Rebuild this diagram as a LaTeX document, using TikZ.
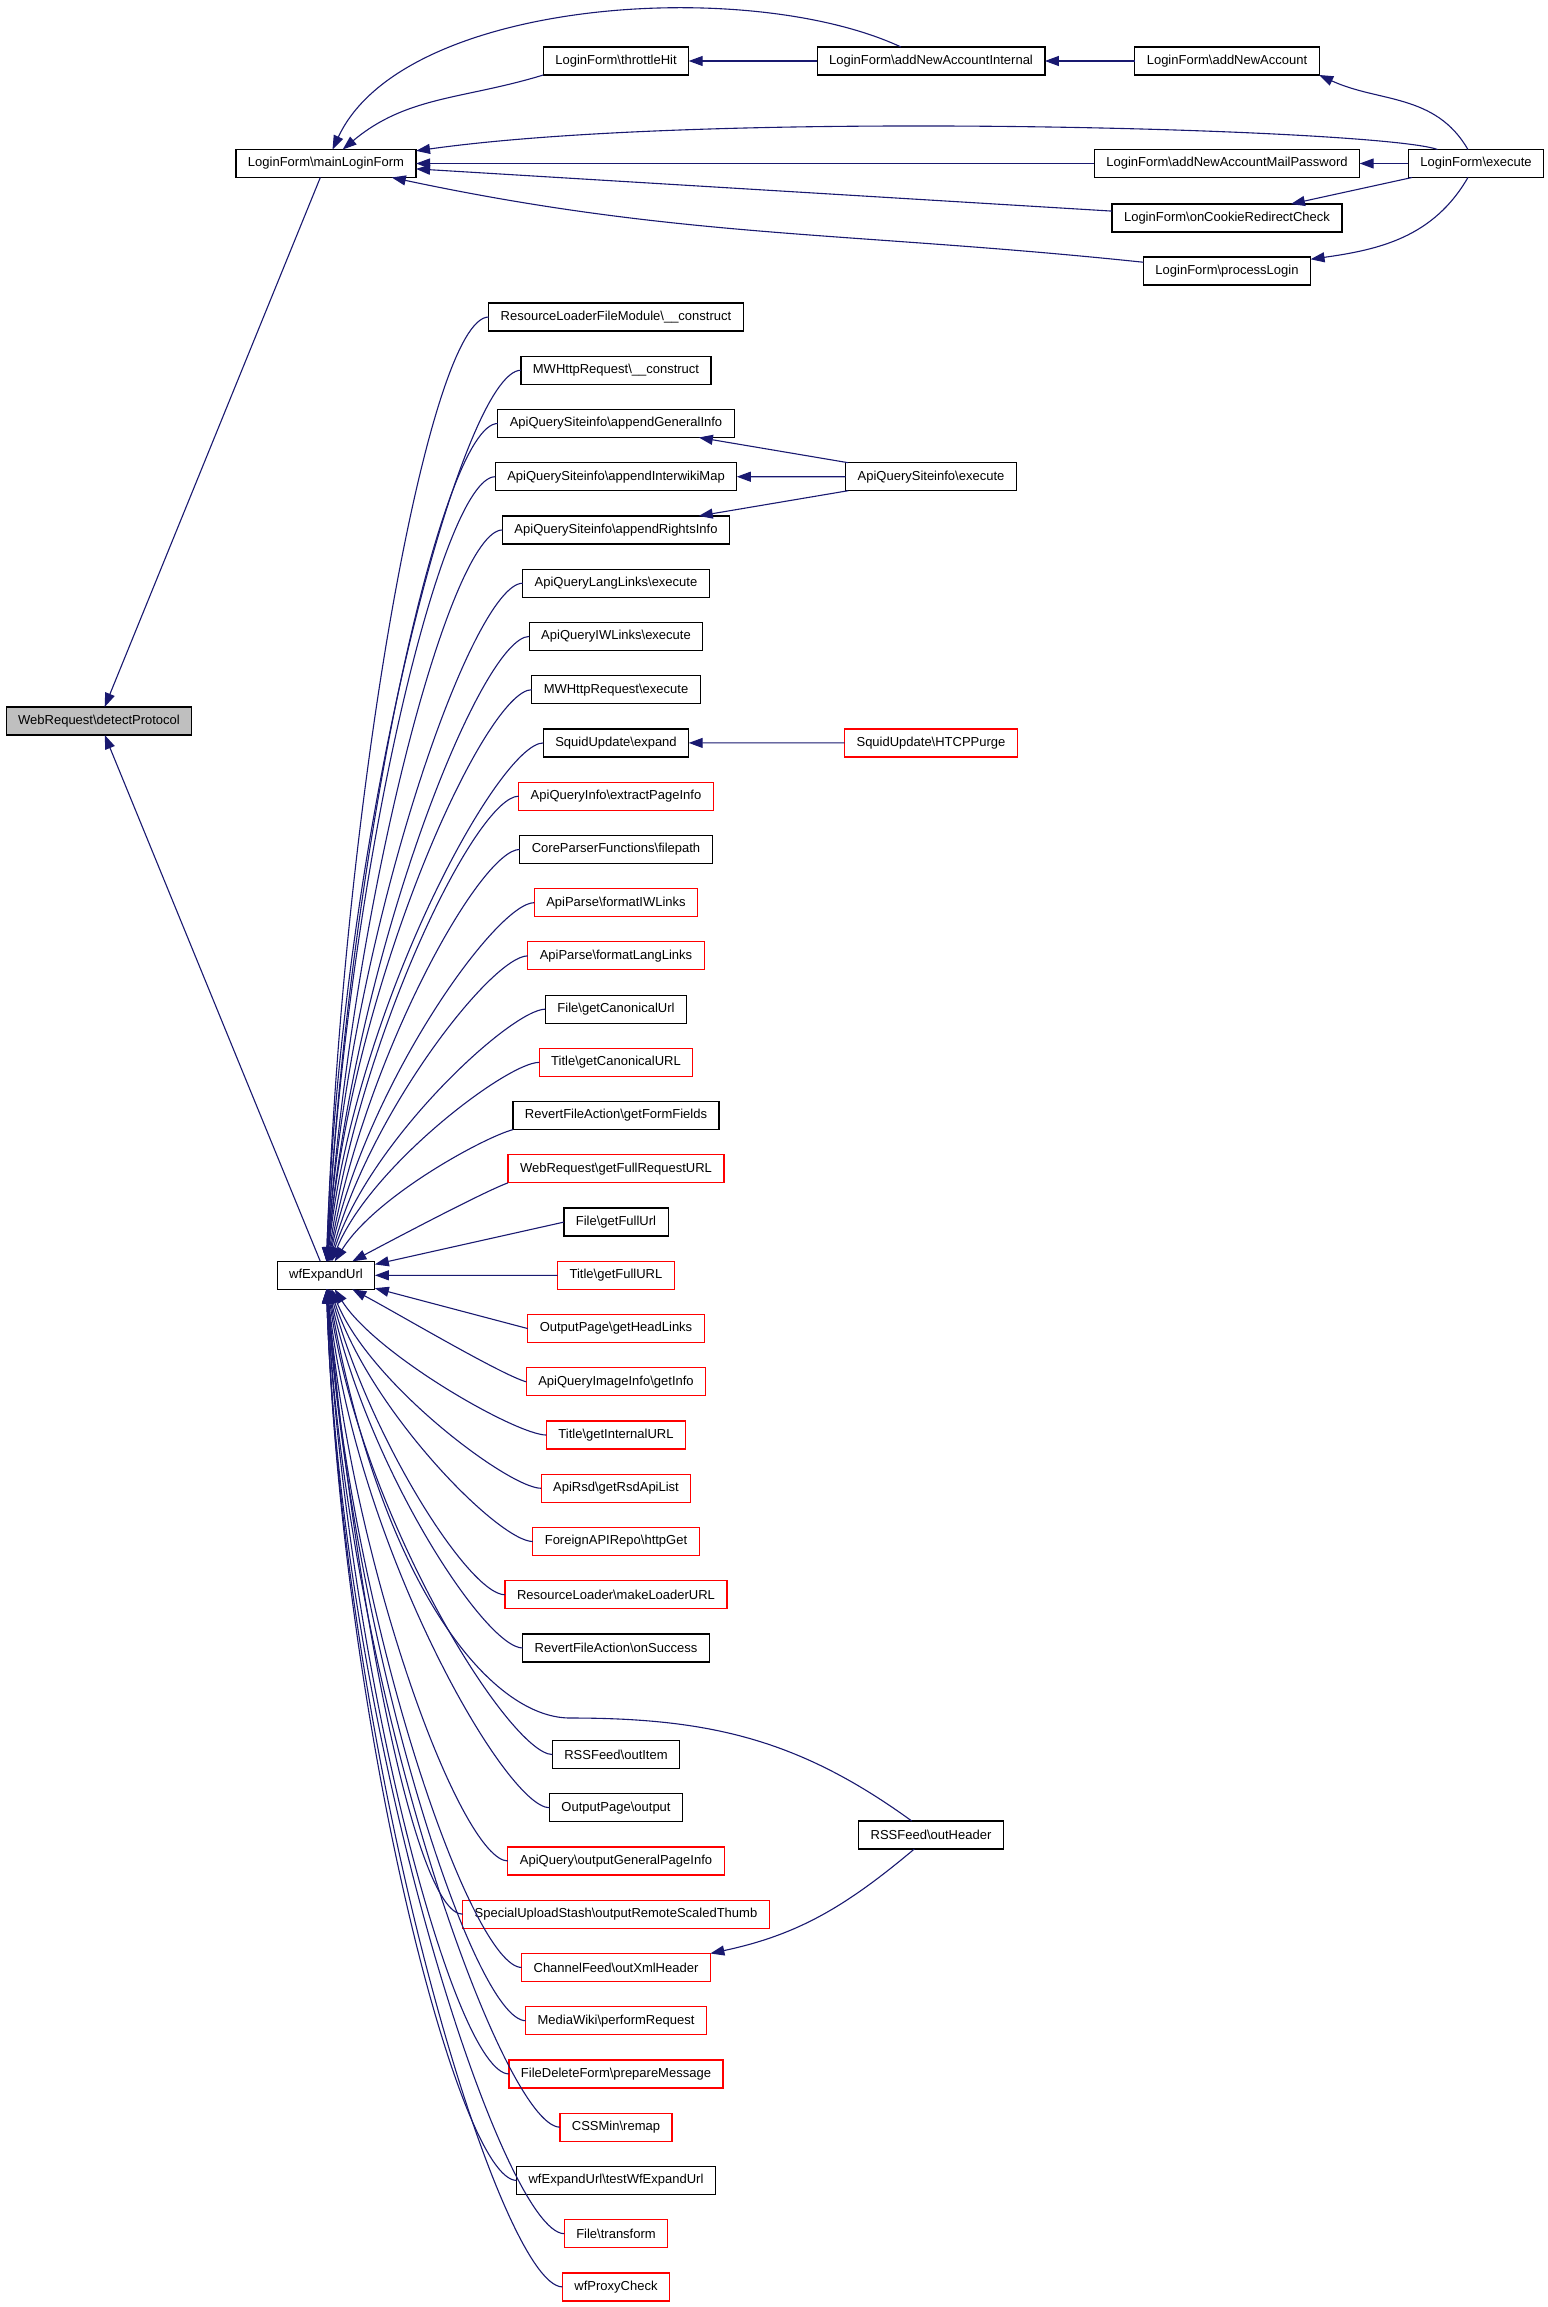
\documentclass[tikz,border=0pt]{standalone}
\usepackage{fontspec}
\setmainfont{Liberation Sans}
\usepackage{tikz}
\usetikzlibrary{arrows.meta,positioning}
\definecolor{dxblue}{HTML}{191970}
\definecolor{dxred}{HTML}{FF0000}
\definecolor{dxgray}{HTML}{BFBFBF}
\newcommand{\bsl}{\textbackslash}

\begin{document}
\begin{tikzpicture}[
  x=1pt,y=1pt,
  font=\fontsize{13}{15}\selectfont,
  fn/.style={draw=black,line width=1.2pt,fill=white,inner xsep=12pt,
             inner ysep=0pt,minimum height=28pt,outer sep=0pt},
  fnred/.style={fn,draw=dxred},
  fnhit/.style={fn,fill=dxgray},
  call/.style={draw=dxblue,line width=1.1pt,-{Triangle[length=14pt,width=10pt]}},
]
\path[use as bounding box,fill=white] (0,0) rectangle (1547,-2307);

\node[fnhit] (detect) at (99,-721) {WebRequest\bsl detectProtocol};
\node[fn] (mainform) at (326,-163.5) {LoginForm\bsl mainLoginForm};
\node[fn] (wfexpand) at (326,-1275.3) {wfExpandUrl};

\node[fn] (throttle) at (616,-61) {LoginForm\bsl throttleHit};
\node[fn] (addint) at (931,-61) {LoginForm\bsl addNewAccountInternal};
\node[fn] (addacc) at (1227,-61) {LoginForm\bsl addNewAccount};
\node[fn] (mailpw) at (1227,-163.5) {LoginForm\bsl addNewAccountMailPassword};
\node[fn] (cookie) at (1227,-218) {LoginForm\bsl onCookieRedirectCheck};
\node[fn] (proclogin) at (1227,-271) {LoginForm\bsl processLogin};
\node[fn] (lfexec) at (1476,-163.5) {LoginForm\bsl execute};

\node[fn] (rlfmcons) at (616,-317) {ResourceLoaderFileModule\bsl\_\_construct};
\node[fn,below=25.24pt of rlfmcons] (httpcons) {MWHttpRequest\bsl\_\_construct};
\node[fn,below=25.24pt of httpcons] (geninfo) {ApiQuerySiteinfo\bsl appendGeneralInfo};
\node[fn,below=25.24pt of geninfo] (iwmap) {ApiQuerySiteinfo\bsl appendInterwikiMap};
\node[fn,below=25.24pt of iwmap] (rights) {ApiQuerySiteinfo\bsl appendRightsInfo};
\node[fn,below=25.24pt of rights] (langlinks) {ApiQueryLangLinks\bsl execute};
\node[fn,below=25.24pt of langlinks] (iwlinks) {ApiQueryIWLinks\bsl execute};
\node[fn,below=25.24pt of iwlinks] (httpexec) {MWHttpRequest\bsl execute};
\node[fn,below=25.24pt of httpexec] (squidexp) {SquidUpdate\bsl expand};
\node[fnred,below=25.24pt of squidexp] (pageinfo) {ApiQueryInfo\bsl extractPageInfo};
\node[fn,below=25.24pt of pageinfo] (filepath) {CoreParserFunctions\bsl filepath};
\node[fnred,below=25.24pt of filepath] (fmtiw) {ApiParse\bsl formatIWLinks};
\node[fnred,below=25.24pt of fmtiw] (fmtlang) {ApiParse\bsl formatLangLinks};
\node[fn,below=25.24pt of fmtlang] (filecanon) {File\bsl getCanonicalUrl};
\node[fnred,below=25.24pt of filecanon] (titlecanon) {Title\bsl getCanonicalURL};
\node[fn,below=25.24pt of titlecanon] (formfields) {RevertFileAction\bsl getFormFields};
\node[fnred,below=25.24pt of formfields] (fullreq) {WebRequest\bsl getFullRequestURL};
\node[fn,below=25.24pt of fullreq] (filefull) {File\bsl getFullUrl};
\node[fnred,below=25.24pt of filefull] (titlefull) {Title\bsl getFullURL};
\node[fnred,below=25.24pt of titlefull] (headlinks) {OutputPage\bsl getHeadLinks};
\node[fnred,below=25.24pt of headlinks] (imginfo) {ApiQueryImageInfo\bsl getInfo};
\node[fnred,below=25.24pt of imginfo] (titleint) {Title\bsl getInternalURL};
\node[fnred,below=25.24pt of titleint] (rsdlist) {ApiRsd\bsl getRsdApiList};
\node[fnred,below=25.24pt of rsdlist] (httpget) {ForeignAPIRepo\bsl httpGet};
\node[fnred,below=25.24pt of httpget] (loaderurl) {ResourceLoader\bsl makeLoaderURL};
\node[fn,below=25.24pt of loaderurl] (onsuccess) {RevertFileAction\bsl onSuccess};
\node[fn,below=78.48pt of onsuccess] (outitem) {RSSFeed\bsl outItem};
\node[fn,below=25.24pt of outitem] (outpage) {OutputPage\bsl output};
\node[fnred,below=25.24pt of outpage] (outgen) {ApiQuery\bsl outputGeneralPageInfo};
\node[fnred,below=25.24pt of outgen] (thumb) {SpecialUploadStash\bsl outputRemoteScaledThumb};
\node[fnred,below=25.24pt of thumb] (xmlheader) {ChannelFeed\bsl outXmlHeader};
\node[fnred,below=25.24pt of xmlheader] (perform) {MediaWiki\bsl performRequest};
\node[fnred,below=25.24pt of perform] (prepmsg) {FileDeleteForm\bsl prepareMessage};
\node[fnred,below=25.24pt of prepmsg] (remap) {CSSMin\bsl remap};
\node[fn,below=25.24pt of remap] (testexp) {wfExpandUrl\bsl testWfExpandUrl};
\node[fnred,below=25.24pt of testexp] (transform) {File\bsl transform};
\node[fnred,below=25.24pt of transform] (proxy) {wfProxyCheck};

\node[fn] (siexec) at (931,-476.7) {ApiQuerySiteinfo\bsl execute};
\node[fnred] (htcp) at (931,-742.9) {SquidUpdate\bsl HTCPPurge};
\node[fn] (outheader) at (931,-1835) {RSSFeed\bsl outHeader};
\coordinate (dip) at (570,-1718);

\draw[call] (mainform) -- (detect);
\draw[call] (wfexpand) -- (detect);

\draw[call] (throttle.south west) to[out=197,in=40] (mainform);
\draw[call] (addint) to[out=155,in=65,looseness=0.74] (mainform);
\draw[call] (addint) -- (throttle);
\draw[call] (addacc) -- (addint);
\draw[call] (lfexec) to[out=120,in=-25] (addacc.south east);
\draw[call] (lfexec) to[out=160,in=8,out distance=60pt,in distance=300pt] (mainform);
\draw[call] (mailpw) -- (mainform);
\draw[call] (lfexec) -- (mailpw);
\draw[call] (cookie) -- (mainform);
\draw[call] (lfexec) -- (cookie);
\draw[call] (proclogin) to[out=174,in=-12] (mainform);
\draw[call] (lfexec) to[out=240,in=8] (proclogin);

\draw[call] (siexec) -- (geninfo);
\draw[call] (siexec) -- (iwmap);
\draw[call] (siexec) -- (rights);
\draw[call] (htcp) -- (squidexp);
\draw[call] (outheader) to[out=220,in=12] (xmlheader.north east);
\draw[call] (outheader) to[out=144,in=0] (dip)
  to[out=180,in=-80,out distance=80pt,in distance=300pt] (wfexpand);

\draw[call] (rlfmcons.west) to[out=180,in=88,out distance=60pt,in distance=460pt] (wfexpand);
\draw[call] (httpcons.west) to[out=180,in=88,out distance=58pt,in distance=435pt] (wfexpand);
\draw[call] (geninfo.west) to[out=180,in=87,out distance=56pt,in distance=410pt] (wfexpand);
\draw[call] (iwmap.west) to[out=180,in=87,out distance=54pt,in distance=385pt] (wfexpand);
\draw[call] (rights.west) to[out=180,in=86,out distance=52pt,in distance=360pt] (wfexpand);
\draw[call] (langlinks.west) to[out=180,in=86,out distance=50pt,in distance=332pt] (wfexpand);
\draw[call] (iwlinks.west) to[out=180,in=85,out distance=48pt,in distance=307pt] (wfexpand);
\draw[call] (httpexec.west) to[out=180,in=85,out distance=46pt,in distance=281pt] (wfexpand);
\draw[call] (squidexp.west) to[out=180,in=84,out distance=44pt,in distance=255pt] (wfexpand);
\draw[call] (pageinfo.west) to[out=180,in=82,out distance=42pt,in distance=230pt] (wfexpand);
\draw[call] (filepath.west) to[out=180,in=80,out distance=40pt,in distance=205pt] (wfexpand);
\draw[call] (fmtiw.west) to[out=180,in=78,out distance=38pt,in distance=180pt] (wfexpand);
\draw[call] (fmtlang.west) to[out=180,in=75,out distance=36pt,in distance=153pt] (wfexpand);
\draw[call] (filecanon.west) to[out=180,in=72,out distance=34pt,in distance=128pt] (wfexpand);
\draw[call] (titlecanon.west) to[out=180,in=68,out distance=32pt,in distance=102pt] (wfexpand);
\draw[call] (formfields.south west) to[out=195,in=58,out distance=30pt,in distance=77pt] (wfexpand);
\draw[call] (fullreq.south west) to[out=200,in=28,out distance=25pt,in distance=50pt] (wfexpand);
\draw[call] (filefull.west) -- (wfexpand);
\draw[call] (titlefull) -- (wfexpand);
\draw[call] (headlinks.west) -- (wfexpand);
\draw[call] (imginfo.west) to[out=165,in=-28,out distance=25pt,in distance=50pt] (wfexpand);
\draw[call] (titleint.west) to[out=180,in=-58,out distance=30pt,in distance=77pt] (wfexpand);
\draw[call] (rsdlist.west) to[out=180,in=-68,out distance=32pt,in distance=102pt] (wfexpand);
\draw[call] (httpget.west) to[out=180,in=-72,out distance=34pt,in distance=128pt] (wfexpand);
\draw[call] (loaderurl.west) to[out=180,in=-75,out distance=36pt,in distance=153pt] (wfexpand);
\draw[call] (onsuccess.west) to[out=180,in=-78,out distance=38pt,in distance=180pt] (wfexpand);
\draw[call] (outitem.west) to[out=180,in=-82,out distance=42pt,in distance=230pt] (wfexpand);
\draw[call] (outpage.west) to[out=180,in=-84,out distance=44pt,in distance=255pt] (wfexpand);
\draw[call] (outgen.west) to[out=180,in=-85,out distance=46pt,in distance=281pt] (wfexpand);
\draw[call] (thumb.west) to[out=180,in=-85,out distance=48pt,in distance=307pt] (wfexpand);
\draw[call] (xmlheader.west) to[out=180,in=-86,out distance=50pt,in distance=332pt] (wfexpand);
\draw[call] (perform.west) to[out=180,in=-86,out distance=52pt,in distance=360pt] (wfexpand);
\draw[call] (prepmsg.west) to[out=180,in=-87,out distance=54pt,in distance=385pt] (wfexpand);
\draw[call] (remap.west) to[out=180,in=-87,out distance=56pt,in distance=410pt] (wfexpand);
\draw[call] (testexp.west) to[out=180,in=-88,out distance=58pt,in distance=435pt] (wfexpand);
\draw[call] (transform.west) to[out=180,in=-88,out distance=60pt,in distance=460pt] (wfexpand);
\draw[call] (proxy.west) to[out=180,in=-88,out distance=62pt,in distance=485pt] (wfexpand);
\end{tikzpicture}
\end{document}
